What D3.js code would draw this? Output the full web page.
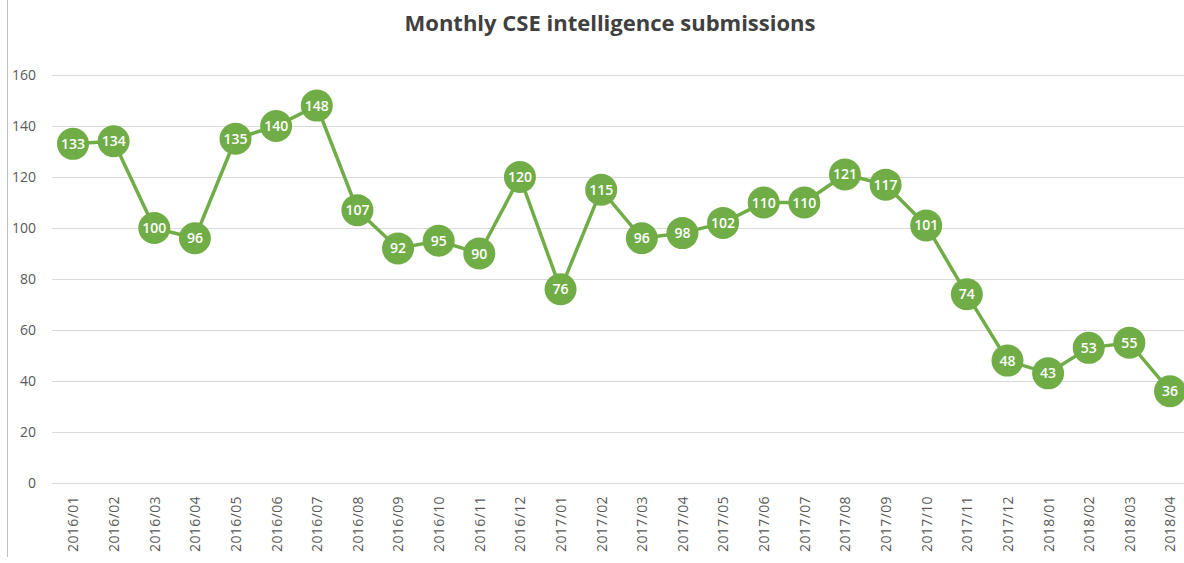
<!DOCTYPE html>
<html>
<head>
<meta charset="utf-8">
<script src="https://cdn.jsdelivr.net/npm/d3@7"></script>
<style>
  body { margin: 0; background: #fff; }
  svg text { font-family: "Open Sans", "Noto Sans", sans-serif; }
</style>
</head>
<body>
<div id="chart"></div>
<script>
  const months = ["2016/01", "2016/02", "2016/03", "2016/04", "2016/05", "2016/06", "2016/07",
    "2016/08", "2016/09", "2016/10", "2016/11", "2016/12", "2017/01", "2017/02", "2017/03",
    "2017/04", "2017/05", "2017/06", "2017/07", "2017/08", "2017/09", "2017/10", "2017/11",
    "2017/12", "2018/01", "2018/02", "2018/03", "2018/04"];
  const submissions = [133, 134, 100, 96, 135, 140, 148, 107, 92, 95, 90, 120, 76, 115, 96,
    98, 102, 110, 110, 121, 117, 101, 74, 48, 43, 53, 55, 36];
  const yTicks = [0, 20, 40, 60, 80, 100, 120, 140, 160];

  const W = 1184, H = 563;
  const green = "#70ad47";

  const svg = d3.select("#chart").append("svg")
    .attr("width", W).attr("height", H);

  // frame line on the left
  svg.append("line")
    .attr("x1", 7.5).attr("x2", 7.5).attr("y1", 0).attr("y2", 557)
    .attr("stroke", "#bfbfbf");

  svg.append("text")
    .attr("x", 610).attr("y", 31)
    .attr("text-anchor", "middle")
    .attr("font-size", 22).attr("font-weight", "bold")
    .attr("fill", "#404040")
    .text("Monthly CSE intelligence submissions");

  const x = d3.scalePoint().domain(months).range([73, 1170]);
  const y = d3.scaleLinear().domain([0, 160]).range([483, 75]);

  // gridlines + y labels
  const yAxis = svg.append("g")
    .attr("transform", "translate(52,0)")
    .call(d3.axisLeft(y).tickValues(yTicks).tickSize(-(W - 52)).tickPadding(16));
  yAxis.select(".domain").remove();
  yAxis.selectAll(".tick line").attr("stroke", "#d9d9d9");
  yAxis.selectAll(".tick text").attr("fill", "#595959").attr("font-size", 14);

  // x labels
  const xAxis = svg.append("g")
    .attr("transform", "translate(0,483)")
    .call(d3.axisBottom(x).tickSize(0));
  xAxis.select(".domain").remove();
  xAxis.selectAll(".tick text")
    .attr("fill", "#595959").attr("font-size", 14)
    .attr("letter-spacing", 0.4)
    .attr("transform", "rotate(-90)")
    .attr("text-anchor", "end")
    .attr("x", -13).attr("y", 0).attr("dy", "0.35em");

  const line = d3.line()
    .x((d, i) => x(months[i]))
    .y(d => y(d));

  svg.append("path")
    .datum(submissions)
    .attr("fill", "none")
    .attr("stroke", green)
    .attr("stroke-width", 3.5)
    .attr("d", line);

  const pts = svg.append("g").selectAll("g")
    .data(submissions)
    .join("g")
    .attr("transform", (d, i) => `translate(${x(months[i])},${y(d)})`);

  pts.append("circle")
    .attr("r", 16)
    .attr("fill", green);

  pts.append("text")
    .attr("text-anchor", "middle")
    .attr("dy", "0.36em")
    .attr("fill", "#fff")
    .attr("font-size", 14)
    .attr("font-weight", 600)
    .text(d => d);
</script>
</body>
</html>
